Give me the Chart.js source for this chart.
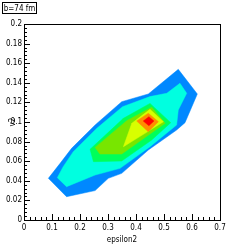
<!DOCTYPE html>
<html>
<head>
<meta charset="utf-8">
<script src="https://cdn.jsdelivr.net/npm/chart.js@4"></script>
<style>
  html, body { margin: 0; padding: 0; background: #fff; }
  canvas { display: block; }
</style>
</head>
<body>
<canvas id="contour" width="245" height="245"></canvas>
<script>
// contour levels, outermost first, each one closed polygon of [epsilon2, v2]
let levelNames = ['level1', 'level2', 'level3', 'level4', 'level5', 'level6', 'level7'];
let levelColors = ['#0088ff', '#00ffe0', '#00ff5a', '#78e600', '#d8ff00', '#ff8c00', '#ff0000'];

let level1 = [[0.087, 0.0425], [0.152, 0.0238], [0.254, 0.030], [0.301, 0.0425], [0.349, 0.0476],
  [0.444, 0.0714], [0.545, 0.0918], [0.575, 0.0993], [0.619, 0.1286], [0.551, 0.1537],
  [0.444, 0.1286], [0.349, 0.1207], [0.254, 0.097], [0.170, 0.0731], [0.129, 0.0578]];
let level2 = [[0.119, 0.0432], [0.152, 0.034], [0.254, 0.0459], [0.343, 0.0527], [0.45, 0.0748],
  [0.545, 0.0969], [0.551, 0.1122], [0.581, 0.1293], [0.557, 0.1395], [0.51, 0.1293],
  [0.45, 0.1259], [0.352, 0.1156], [0.26, 0.0935], [0.176, 0.0697], [0.14, 0.0544]];
let level3 = [[0.236, 0.0721], [0.248, 0.0595], [0.349, 0.0602], [0.456, 0.0816], [0.524, 0.0993],
  [0.45, 0.119], [0.355, 0.1037]];
let level4 = [[0.254, 0.0741], [0.271, 0.0673], [0.349, 0.0673], [0.504, 0.0986], [0.456, 0.115],
  [0.367, 0.1014]];
let level5 = [[0.355, 0.0748], [0.385, 0.0986], [0.45, 0.1129], [0.498, 0.1003], [0.432, 0.0884]];
let level6 = [[0.4025, 0.101], [0.444, 0.1089], [0.48, 0.1003], [0.444, 0.090]];
let level7 = [[0.426, 0.101], [0.446, 0.1054], [0.464, 0.101], [0.446, 0.0962]];

let xTicks = [0, 0.1, 0.2, 0.3, 0.4, 0.5, 0.6, 0.7];
let yTicks = [0, 0.02, 0.04, 0.06, 0.08, 0.1, 0.12, 0.14, 0.16, 0.18, 0.2];
let labelText = 'b=74 fm';

const levels = [level1, level2, level3, level4, level5, level6, level7];
const FONT = '"Liberation Sans Narrow", "DejaVu Sans Condensed", "Liberation Sans", Arial, sans-serif';

function toPoints(poly) {
  const pts = poly.map(p => ({x: p[0], y: p[1]}));
  pts.push({x: poly[0][0], y: poly[0][1]});
  return pts;
}

// plain number labels like ROOT: 0, 0.1, 0.12
const fmt = v => String(+Number(v).toFixed(3));

// ROOT style frame with inward ticks
const framePlugin = {
  id: 'frame',
  afterDatasetsDraw(chart) {
    const ctx = chart.ctx;
    const a = chart.chartArea;
    const xs = chart.scales.x, ys = chart.scales.y;
    ctx.save();
    ctx.strokeStyle = '#000';
    ctx.lineWidth = 1;
    ctx.beginPath();
    for (let i = 0; i <= 35; i++) {
      const v = i * 0.02;
      const px = Math.round(xs.getPixelForValue(v)) + 0.5;
      const len = i % 5 === 0 ? 6 : 3;
      ctx.moveTo(px, a.bottom);
      ctx.lineTo(px, a.bottom - len);
    }
    for (let i = 0; i <= 50; i++) {
      const v = i * 0.004;
      const py = Math.round(ys.getPixelForValue(v)) + 0.5;
      const len = i % 5 === 0 ? 6 : 3;
      ctx.moveTo(a.left, py);
      ctx.lineTo(a.left + len, py);
    }
    ctx.stroke();
    ctx.strokeRect(Math.round(a.left) + 0.5, Math.round(a.top) + 0.5,
      Math.round(a.right - a.left), Math.round(a.bottom - a.top));
    // pave label
    ctx.font = '8px ' + FONT;
    ctx.fillStyle = '#fff';
    ctx.fillRect(2.5, 2.5, 34, 11);
    ctx.strokeRect(2.5, 2.5, 34, 11);
    ctx.fillStyle = '#000';
    ctx.textBaseline = 'middle';
    ctx.textAlign = 'center';
    ctx.fillText(labelText, 19.5, 8.5);
    ctx.restore();
  }
};

new Chart(document.getElementById('contour'), {
  type: 'scatter',
  data: {
    datasets: levels.map((poly, i) => ({
      label: levelNames[i],
      data: toPoints(poly),
      showLine: true,
      fill: 'shape',
      backgroundColor: levelColors[i],
      borderColor: levelColors[i],
      borderWidth: 0.5,
      pointRadius: 0,
      tension: 0,
      order: levels.length - i,
    })),
  },
  options: {
    responsive: false,
    animation: false,
    layout: { padding: { top: 24, right: 25, left: 0, bottom: 0 } },
    plugins: { legend: { display: false }, tooltip: { enabled: false } },
    scales: {
      x: {
        type: 'linear',
        min: 0,
        max: 0.7,
        afterBuildTicks: s => { s.ticks = xTicks.map(v => ({value: v})); },
        afterFit: s => { s.height = 25; },
        grid: { display: false, drawTicks: false },
        border: { display: false },
        ticks: { color: '#000', padding: 3, font: { family: FONT, size: 8 }, maxRotation: 0, callback: fmt },
        title: { display: true, text: 'epsilon2', color: '#000', padding: 0, font: { family: FONT, size: 8 } },
      },
      y: {
        type: 'linear',
        min: 0,
        max: 0.2,
        afterBuildTicks: s => { s.ticks = yTicks.map(v => ({value: v})); },
        afterFit: s => { s.width = 24; },
        grid: { display: false, drawTicks: false },
        border: { display: false },
        ticks: { color: '#000', padding: 2, font: { family: FONT, size: 8 }, callback: fmt },
        title: { display: true, text: 'v2', color: '#000', padding: { top: 8, bottom: 0 }, font: { family: FONT, size: 8 } },
      },
    },
  },
  plugins: [framePlugin],
});
</script>
</body>
</html>
